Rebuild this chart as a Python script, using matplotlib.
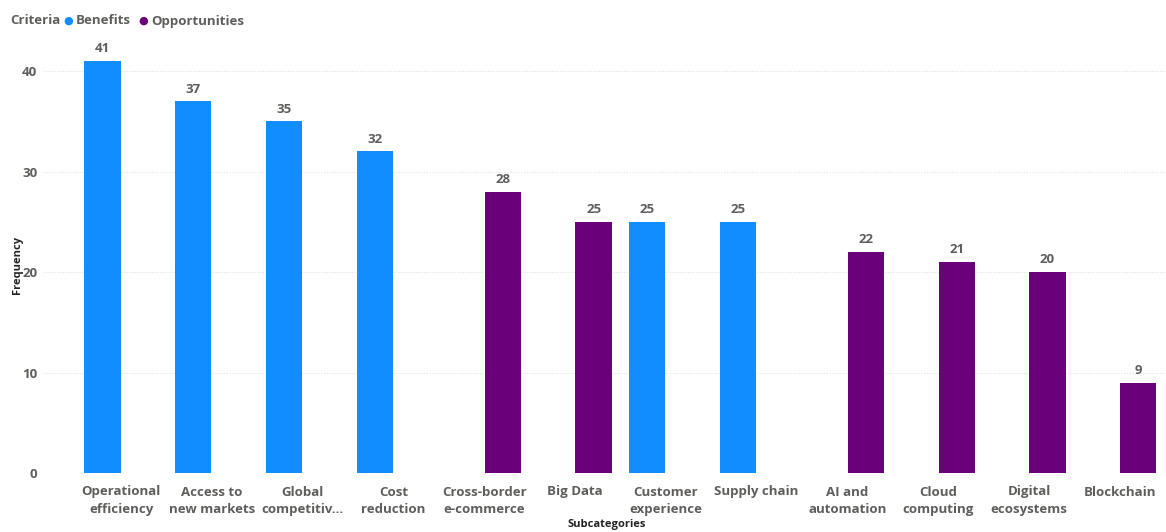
import numpy as np
import matplotlib.pyplot as plt

categories = ["Operational\nefficiency", "Access to\nnew markets", "Global\ncompetitiv...",
              "Cost\nreduction", "Cross-border\ne-commerce", "Big Data", "Customer\nexperience",
              "Supply chain", "AI and\nautomation", "Cloud\ncomputing", "Digital\necosystems",
              "Blockchain"]
benefits = [41, 37, 35, 32, None, None, 25, 25, None, None, None, None]
opportunities = [None, None, None, None, 28, 25, None, None, 22, 21, 20, 9]

blue = "#118DFF"
purple = "#6B007B"
label_grey = "#605E5C"
dark = "#252423"

plt.rcParams['font.family'] = ['Open Sans', 'DejaVu Sans']

fig = plt.figure(figsize=(11.66, 5.32), dpi=100)
ax = fig.add_axes([43 / 1166, (532 - 473) / 532, 1 - 43 / 1166, (473 - 51) / 532])

x = np.arange(len(categories))
width = 0.40
offset = 0.205


def draw(values, shift, color):
    xs = [xi + shift for xi, v in zip(x, values) if v is not None]
    vs = [v for v in values if v is not None]
    bars = ax.bar(xs, vs, width=width, color=color, zorder=3)
    for b, v in zip(bars, vs):
        ax.annotate(str(v), (b.get_x() + b.get_width() / 2, v), xytext=(0, 4),
                    textcoords="offset points", ha="center", va="bottom",
                    fontsize=9.5, fontweight="bold", color=label_grey)


draw(benefits, -offset, blue)
draw(opportunities, offset, purple)

ax.set_xlim(-0.86, 11.51)
ax.set_ylim(0, 42)
ax.set_yticks([0, 10, 20, 30, 40])
ax.set_xticks(x)
ax.set_xticklabels(categories, fontsize=9.5, fontweight="bold", color=label_grey,
                   linespacing=1.45)
ax.tick_params(axis="both", length=0, labelsize=9.5, labelcolor=label_grey)
ax.tick_params(axis="x", pad=9)
ax.tick_params(axis="y", pad=4)
for lab in ax.get_yticklabels():
    lab.set_fontweight("bold")

ax.grid(axis="y", color="#E1E1E1", linestyle=(0, (1, 1.5)), linewidth=0.8, zorder=0)
for s in ax.spines.values():
    s.set_visible(False)

fig.text(17 / 1166, 1 - 265 / 532, "Frequency", rotation=90, ha="center", va="center",
         fontsize=8, fontweight="bold", color=dark)
fig.text(607 / 1166, 1 - 524 / 532, "Subcategories", ha="center", va="center",
         fontsize=8, fontweight="bold", color=dark)

# legend row
fig.text(10 / 1166, 1 - 21 / 532, "Criteria", ha="left", va="center",
         fontsize=9.5, fontweight="bold", color=label_grey)
fig.text(63 / 1166, 1 - 21 / 532, "●", ha="left", va="center", fontsize=8, color=blue)
fig.text(76 / 1166, 1 - 21 / 532, "Benefits", ha="left", va="center",
         fontsize=9.5, fontweight="bold", color=label_grey)
fig.text(138 / 1166, 1 - 21 / 532, "●", ha="left", va="center", fontsize=8, color=purple)
fig.text(151 / 1166, 1 - 21 / 532, "Opportunities", ha="left", va="center",
         fontsize=9.5, fontweight="bold", color=label_grey)

fig.savefig("out.png", dpi=100)
